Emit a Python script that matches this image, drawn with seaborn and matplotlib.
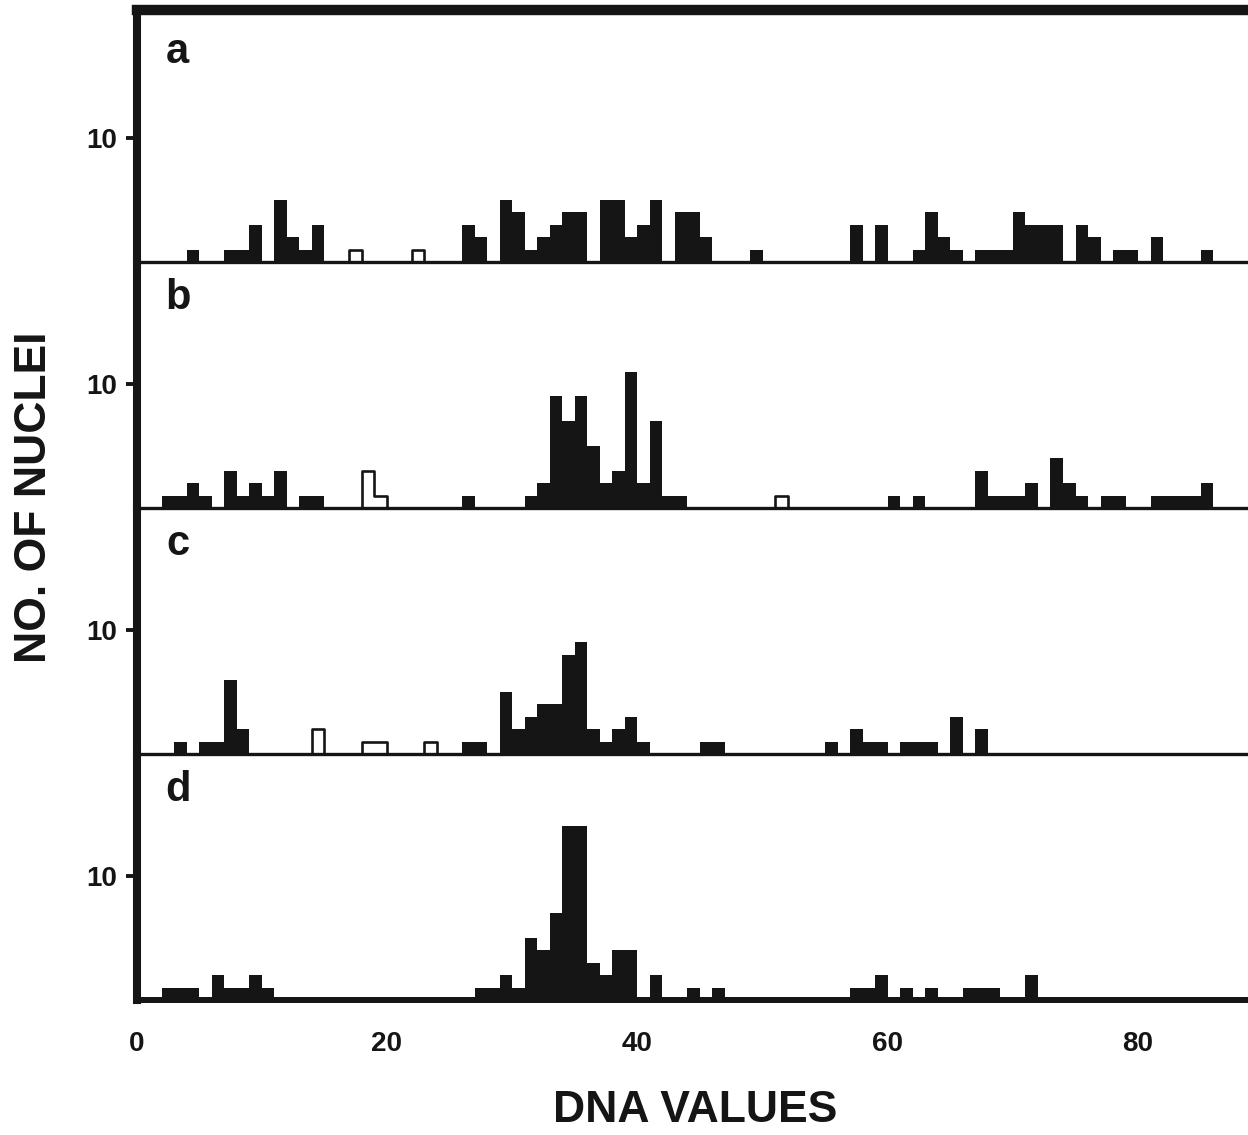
import numpy as np
import pandas as pd
import seaborn as sns
import matplotlib.pyplot as plt

## Data
# number of nuclei per DNA-value class (key = left edge of class, width 1)
# filled bars
counts_a = {4: 1, 7: 1, 8: 1, 9: 3, 11: 5, 12: 2, 13: 1, 14: 3, 26: 3, 27: 2,
            29: 5, 30: 4, 31: 1, 32: 2, 33: 3, 34: 4, 35: 4, 37: 5, 38: 5, 39: 2,
            40: 3, 41: 5, 43: 4, 44: 4, 45: 2, 49: 1, 57: 3, 59: 3, 62: 1, 63: 4,
            64: 2, 65: 1, 67: 1, 68: 1, 69: 1, 70: 4, 71: 3, 72: 3, 73: 3, 75: 3,
            76: 2, 78: 1, 79: 1, 81: 2, 85: 1}
counts_b = {2: 1, 3: 1, 4: 2, 5: 1, 7: 3, 8: 1, 9: 2, 10: 1, 11: 3, 13: 1,
            14: 1, 26: 1, 31: 1, 32: 2, 33: 9, 34: 7, 35: 9, 36: 5, 37: 2, 38: 3,
            39: 11, 40: 2, 41: 7, 42: 1, 43: 1, 60: 1, 62: 1, 67: 3, 68: 1, 69: 1,
            70: 1, 71: 2, 73: 4, 74: 2, 75: 1, 77: 1, 78: 1, 81: 1, 82: 1, 83: 1,
            84: 1, 85: 2}
counts_c = {3: 1, 5: 1, 6: 1, 7: 6, 8: 2, 26: 1, 27: 1, 29: 5, 30: 2, 31: 3,
            32: 4, 33: 4, 34: 8, 35: 9, 36: 2, 37: 1, 38: 2, 39: 3, 40: 1, 45: 1,
            46: 1, 55: 1, 57: 2, 58: 1, 59: 1, 61: 1, 62: 1, 63: 1, 65: 3, 67: 2}
counts_d = {2: 1, 3: 1, 4: 1, 6: 2, 7: 1, 8: 1, 9: 2, 10: 1, 27: 1, 28: 1,
            29: 2, 30: 1, 31: 5, 32: 4, 33: 7, 34: 14, 35: 14, 36: 3, 37: 2, 38: 4,
            39: 4, 41: 2, 44: 1, 46: 1, 57: 1, 58: 1, 59: 2, 61: 1, 63: 1, 66: 1,
            67: 1, 68: 1, 71: 2}
# open bars
open_a = {17: 1, 22: 1}
open_b = {18: 3, 19: 1, 51: 1}
open_c = {14: 2, 18: 1, 19: 1, 23: 1}
open_d = {}

panel_letters = ["a", "b", "c", "d"]
x_ticks = [0, 20, 40, 60, 80]
y_ticks = [10]

## Style
sns.set_theme(style="white")
plt.rcParams['font.family'] = ['Liberation Sans', 'DejaVu Sans']
plt.rcParams['font.weight'] = 'bold'
ink = "#151515"


def draw_hist(counts, ax, fill):
    if not counts:
        return
    df = pd.DataFrame({"dna": np.array(list(counts.keys())) + 0.5,
                       "n": list(counts.values())})
    if fill:
        sns.histplot(df, x="dna", weights="n", binwidth=1, binrange=(0, 90),
                     element="step", fill=True, color=ink, alpha=1, linewidth=0, ax=ax)
    else:
        sns.histplot(df, x="dna", weights="n", binwidth=1, binrange=(0, 90),
                     element="step", fill=False, color=ink, linewidth=1.9, ax=ax)


## Figure
W, H = 1248, 1135
fig = plt.figure(figsize=(W / 100, H / 100), dpi=100)

x0 = 136.5      # px of DNA value 0
px_unit = 12.52  # px per DNA unit
tops = [9.5, 262, 508, 754]
bottoms = [262, 508, 754, 1000]

filled = [counts_a, counts_b, counts_c, counts_d]
opened = [open_a, open_b, open_c, open_d]

for i in range(4):
    ax = fig.add_axes([x0 / W, 1 - bottoms[i] / H, 90 * px_unit / W,
                       (bottoms[i] - tops[i]) / H])
    ax.set_facecolor("none")
    draw_hist(filled[i], ax, True)
    draw_hist(opened[i], ax, False)
    ax.set_xlim(0, 90)
    ax.set_ylim(0, (bottoms[i] - tops[i]) / 12.4)
    ax.set_xlabel("")
    ax.set_ylabel("")

    # frame
    ax.spines['right'].set_visible(False)
    ax.spines['top'].set_visible(i == 0)
    ax.spines['top'].set_linewidth(7.5)
    ax.spines['left'].set_linewidth(5.8)
    ax.spines['bottom'].set_linewidth(4.3 if i == 3 else 2.4)
    for s in ax.spines.values():
        s.set_color(ink)
        s.set_zorder(3)

    # ticks
    ax.set_yticks(y_ticks)
    ax.set_yticklabels([str(t) for t in y_ticks], fontsize=20, fontweight='bold', color=ink)
    ax.tick_params(axis='y', left=True, length=8, width=2.8, pad=6, color=ink)
    ax.set_xticks(x_ticks)
    if i == 3:
        ax.set_xticklabels([str(t) for t in x_ticks], fontsize=20, fontweight='bold', color=ink)
        ax.tick_params(axis='x', bottom=True, length=0, pad=22)
    else:
        ax.set_xticklabels([])
        ax.tick_params(axis='x', length=0)

    # panel letter
    ax.text(3.3, 16.9, panel_letters[i], fontsize=30, fontweight='bold',
            color=ink, ha='center', va='center')

# axis titles
fig.text(695 / W, 1 - 1111 / H, "DNA VALUES", fontsize=32, fontweight='bold',
         color=ink, ha='center', va='center')
fig.text(35 / W, 1 - 497 / H, "NO. OF NUCLEI", fontsize=32, fontweight='bold',
         color=ink, ha='center', va='center', rotation=90)

plt.savefig("out.png", dpi=100)
